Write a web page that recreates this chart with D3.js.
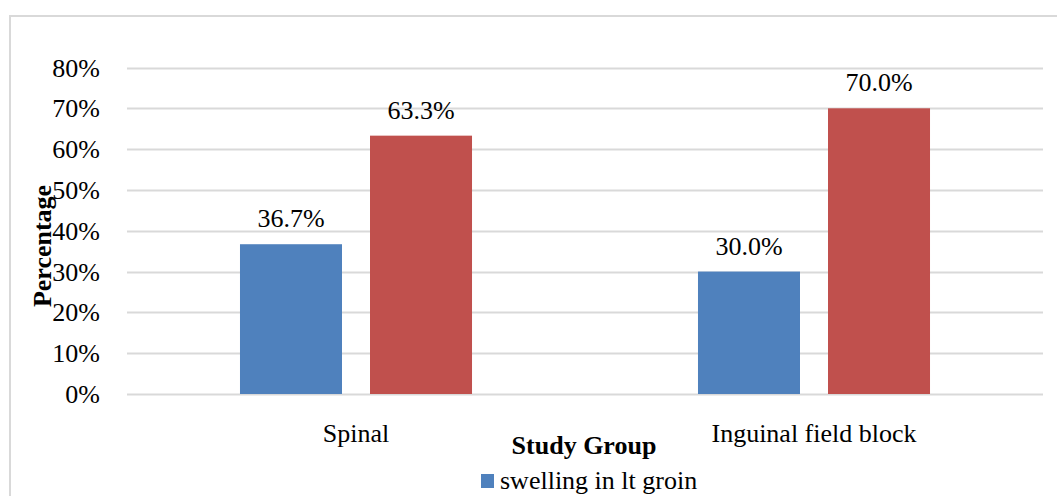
<!DOCTYPE html>
<html>
<head>
<meta charset="utf-8">
<script src="https://cdn.jsdelivr.net/npm/d3@7"></script>
<style>
  html, body { margin: 0; padding: 0; background: #fff; }
  svg { display: block; }
  text { font-family: "Liberation Serif", "Times New Roman", serif; fill: #000; }
</style>
</head>
<body>
<svg id="chart" width="1057" height="496"></svg>
<script>
const categories = ["Spinal", "Inguinal field block"];
const seriesNames = ["swelling in lt groin", "series2"];
const series1 = [36.7, 30.0];
const series2 = [63.3, 70.0];
const yTicks = [0, 10, 20, 30, 40, 50, 60, 70, 80];
const colors = ["#4F81BD", "#C0504D"];
const legendShown = ["swelling in lt groin"];

const svg = d3.select("#chart");
const W = 1057, H = 496;
const plot = { left: 127, right: 1043, top: 67.5, bottom: 394 };

svg.append("rect").attr("x", 0).attr("y", 0).attr("width", W).attr("height", H).attr("fill", "#fff");
// outer border (extends beyond canvas at right and bottom)
svg.append("rect").attr("x", 10).attr("y", 16).attr("width", 1200).attr("height", 700)
  .attr("fill", "none").attr("stroke", "#d9d9d9").attr("stroke-width", 2);

const y = d3.scaleLinear().domain([0, 80]).range([plot.bottom, plot.top]);
const x0 = d3.scaleBand().domain(categories).range([plot.left, plot.right]).padding(0);
const bw = x0.bandwidth();
const x1 = d3.scaleBand().domain(seriesNames).range([0, bw]).paddingInner(28/130).paddingOuter(0.869);

// gridlines
svg.append("g").selectAll("line").data(yTicks).join("line")
  .attr("x1", plot.left).attr("x2", plot.right)
  .attr("y1", d => Math.round(y(d)) + 0.5).attr("y2", d => Math.round(y(d)) + 0.5)
  .attr("stroke", "#d9d9d9").attr("stroke-width", 2);

// y tick labels
svg.append("g").selectAll("text").data(yTicks).join("text")
  .attr("x", 100).attr("y", d => y(d) + 9)
  .attr("text-anchor", "end").attr("font-size", 26)
  .text(d => d + "%");

const data = categories.map((c, i) => ({ cat: c, vals: [series1[i], series2[i]] }));

const groups = svg.append("g").selectAll("g").data(data).join("g")
  .attr("transform", d => `translate(${x0(d.cat)},0)`);

groups.selectAll("rect").data(d => d.vals.map((v, j) => ({ v, s: seriesNames[j], j }))).join("rect")
  .attr("x", d => x1(d.s)).attr("width", x1.bandwidth())
  .attr("y", d => y(d.v)).attr("height", d => y(0) - y(d.v))
  .attr("fill", d => colors[d.j]);

groups.selectAll("text").data(d => d.vals.map((v, j) => ({ v, s: seriesNames[j], j }))).join("text")
  .attr("x", d => x1(d.s) + x1.bandwidth() / 2).attr("y", d => y(d.v) - 17)
  .attr("text-anchor", "middle").attr("font-size", 26)
  .text(d => d.v.toFixed(1) + "%");

// category labels
svg.append("g").selectAll("text").data(categories).join("text")
  .attr("x", d => x0(d) + bw / 2).attr("y", 442)
  .attr("text-anchor", "middle").attr("font-size", 26)
  .text(d => d);

// axis titles
svg.append("text").attr("x", 584).attr("y", 454).attr("text-anchor", "middle")
  .attr("font-size", 26).attr("font-weight", "bold").text("Study Group");
svg.append("text").attr("transform", "translate(51,246) rotate(-90)").attr("text-anchor", "middle")
  .attr("font-size", 26).attr("font-weight", "bold").text("Percentage");

// legend
const lg = svg.append("g").selectAll("g").data(legendShown).join("g")
  .attr("transform", (d, i) => `translate(481,${474 + i * 30})`);
lg.append("rect").attr("width", 13).attr("height", 14).attr("fill", (d, i) => colors[i]);
lg.append("text").attr("x", 19).attr("y", 15).attr("font-size", 26).text(d => d);
</script>
</body>
</html>
